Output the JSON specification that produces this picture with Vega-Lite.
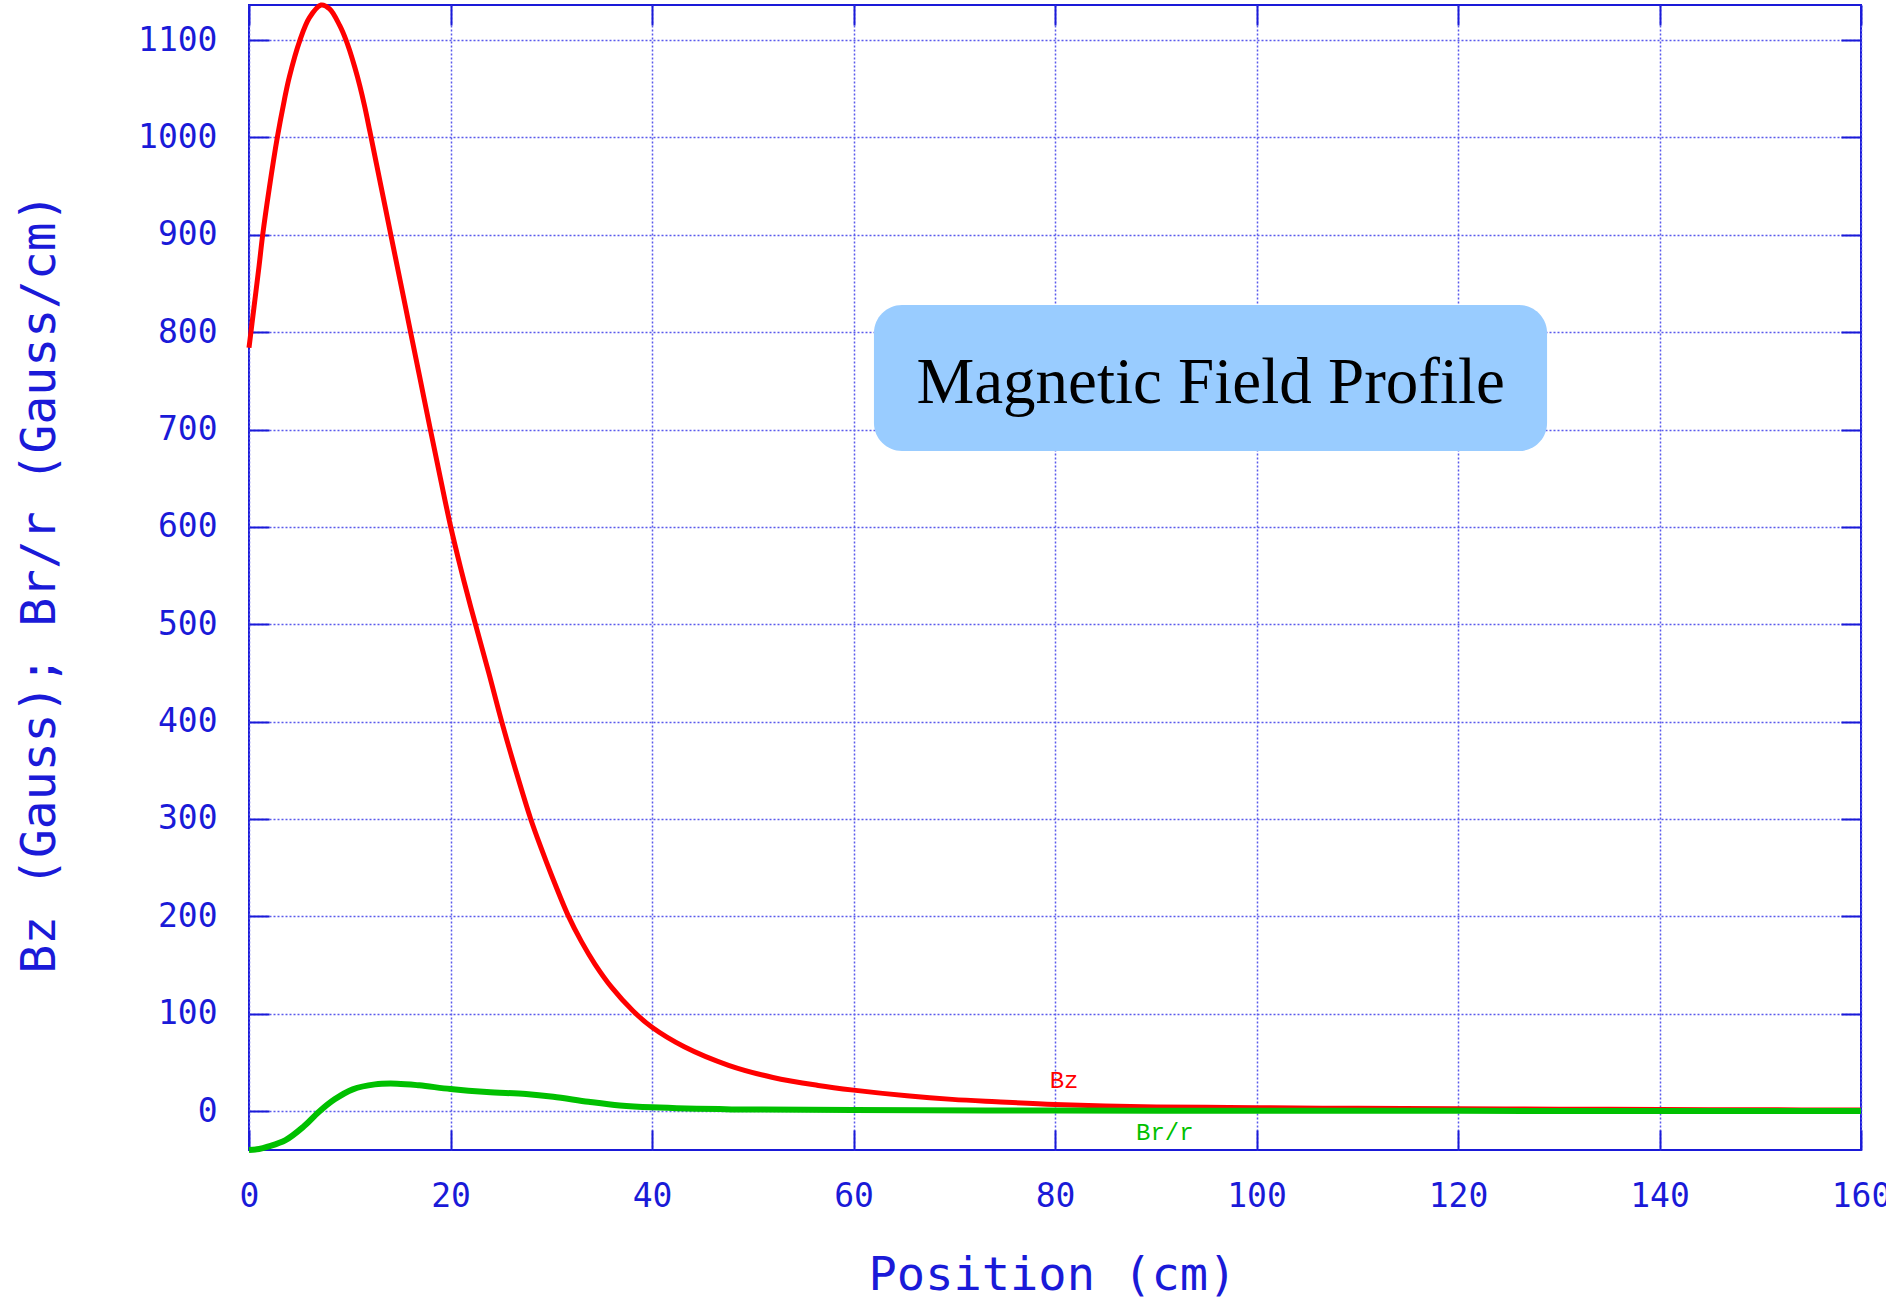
{
  "$schema": "https://vega.github.io/schema/vega-lite/v6.json",
  "width": 1612,
  "height": 1145,
  "autosize": {"type": "none"},
  "padding": {"left": 249, "top": 5, "right": 25, "bottom": 156},
  "background": "white",
  "config": {
    "view": {"stroke": "#1a1ad8", "strokeWidth": 2},
    "axis": {
      "labelFont": "DejaVu Sans Mono",
      "labelFontSize": 33,
      "labelColor": "#1a1ad8",
      "titleFont": "DejaVu Sans Mono",
      "titleFontWeight": "normal",
      "titleColor": "#1a1ad8",
      "tickColor": "#1a1ad8",
      "tickWidth": 2,
      "tickSize": -20,
      "domain": false,
      "gridColor": "#5a5aec",
      "gridDash": [2, 2],
      "gridWidth": 1.5,
      "labelFlush": false,
      "labelOverlap": false
    }
  },
  "datasets": {
    "field": [
      {"x": 0, "v": 784, "s": "Bz"},
      {"x": 0.5, "v": 826, "s": "Bz"},
      {"x": 1, "v": 868, "s": "Bz"},
      {"x": 1.36, "v": 900, "s": "Bz"},
      {"x": 2, "v": 947, "s": "Bz"},
      {"x": 2.81, "v": 1000, "s": "Bz"},
      {"x": 3.5, "v": 1038, "s": "Bz"},
      {"x": 4, "v": 1062, "s": "Bz"},
      {"x": 5.06, "v": 1100, "s": "Bz"},
      {"x": 6, "v": 1123, "s": "Bz"},
      {"x": 7.15, "v": 1136, "s": "Bz"},
      {"x": 8, "v": 1132, "s": "Bz"},
      {"x": 9, "v": 1115, "s": "Bz"},
      {"x": 9.63, "v": 1100, "s": "Bz"},
      {"x": 10, "v": 1089, "s": "Bz"},
      {"x": 10.5, "v": 1072, "s": "Bz"},
      {"x": 11, "v": 1053, "s": "Bz"},
      {"x": 11.5, "v": 1031, "s": "Bz"},
      {"x": 12, "v": 1006, "s": "Bz"},
      {"x": 13, "v": 955, "s": "Bz"},
      {"x": 14, "v": 904, "s": "Bz"},
      {"x": 15, "v": 853, "s": "Bz"},
      {"x": 16, "v": 802, "s": "Bz"},
      {"x": 17, "v": 751, "s": "Bz"},
      {"x": 18, "v": 700, "s": "Bz"},
      {"x": 19, "v": 650, "s": "Bz"},
      {"x": 20, "v": 601, "s": "Bz"},
      {"x": 21, "v": 558, "s": "Bz"},
      {"x": 22, "v": 518, "s": "Bz"},
      {"x": 23.8, "v": 450, "s": "Bz"},
      {"x": 25.08, "v": 400, "s": "Bz"},
      {"x": 26.5, "v": 349, "s": "Bz"},
      {"x": 27.96, "v": 300, "s": "Bz"},
      {"x": 29, "v": 270, "s": "Bz"},
      {"x": 30, "v": 243, "s": "Bz"},
      {"x": 31.67, "v": 201, "s": "Bz"},
      {"x": 33, "v": 174, "s": "Bz"},
      {"x": 34.33, "v": 151, "s": "Bz"},
      {"x": 36, "v": 127, "s": "Bz"},
      {"x": 38.1, "v": 103, "s": "Bz"},
      {"x": 40, "v": 86, "s": "Bz"},
      {"x": 43.2, "v": 66, "s": "Bz"},
      {"x": 47.6, "v": 47, "s": "Bz"},
      {"x": 52, "v": 34.5, "s": "Bz"},
      {"x": 56.5, "v": 26.3, "s": "Bz"},
      {"x": 60, "v": 21.5, "s": "Bz"},
      {"x": 65.3, "v": 15.7, "s": "Bz"},
      {"x": 69.8, "v": 12, "s": "Bz"},
      {"x": 74.2, "v": 9.6, "s": "Bz"},
      {"x": 80, "v": 6.8, "s": "Bz"},
      {"x": 87.5, "v": 4.6, "s": "Bz"},
      {"x": 95, "v": 3.8, "s": "Bz"},
      {"x": 100, "v": 3.4, "s": "Bz"},
      {"x": 110, "v": 2.8, "s": "Bz"},
      {"x": 120, "v": 2.3, "s": "Bz"},
      {"x": 130, "v": 1.9, "s": "Bz"},
      {"x": 140, "v": 1.6, "s": "Bz"},
      {"x": 150, "v": 1.3, "s": "Bz"},
      {"x": 160, "v": 1.1, "s": "Bz"},
      {"x": 0, "v": -40, "s": "Br/r"},
      {"x": 1, "v": -39, "s": "Br/r"},
      {"x": 1.86, "v": -36.6, "s": "Br/r"},
      {"x": 3.63, "v": -29.8, "s": "Br/r"},
      {"x": 5.4, "v": -16.1, "s": "Br/r"},
      {"x": 6.95, "v": -0.7, "s": "Br/r"},
      {"x": 8.5, "v": 12, "s": "Br/r"},
      {"x": 10.3, "v": 22.3, "s": "Br/r"},
      {"x": 12.5, "v": 27.4, "s": "Br/r"},
      {"x": 14.7, "v": 28.1, "s": "Br/r"},
      {"x": 16.9, "v": 26.4, "s": "Br/r"},
      {"x": 20, "v": 22.6, "s": "Br/r"},
      {"x": 23.6, "v": 19.5, "s": "Br/r"},
      {"x": 27.5, "v": 17.5, "s": "Br/r"},
      {"x": 30.2, "v": 14.7, "s": "Br/r"},
      {"x": 33.7, "v": 9.6, "s": "Br/r"},
      {"x": 36.8, "v": 5.8, "s": "Br/r"},
      {"x": 40, "v": 3.8, "s": "Br/r"},
      {"x": 47.9, "v": 1.7, "s": "Br/r"},
      {"x": 60, "v": 1, "s": "Br/r"},
      {"x": 80, "v": 0.5, "s": "Br/r"},
      {"x": 100, "v": 0.3, "s": "Br/r"},
      {"x": 120, "v": 0.2, "s": "Br/r"},
      {"x": 140, "v": 0.1, "s": "Br/r"},
      {"x": 160, "v": 0.1, "s": "Br/r"}
    ]
  },
  "layer": [
    {
      "data": {"values": [{"label": "Magnetic Field Profile"}]},
      "mark": {"type": "rect", "cornerRadius": 28, "fill": "#99ccff"},
      "encoding": {
        "x": {"datum": 62.03, "type": "quantitative", "scale": {"domain": [0, 160], "nice": false, "zero": false}, "axis": null},
        "x2": {"datum": 128.84},
        "y": {"datum": 827.9, "type": "quantitative", "scale": {"domain": [-40, 1136], "nice": false, "zero": false}, "axis": null},
        "y2": {"datum": 677.9}
      }
    },
    {
      "data": {"values": [{"label": "Magnetic Field Profile"}]},
      "mark": {"type": "text", "font": "Liberation Serif", "fontSize": 65, "color": "#000000", "align": "center", "baseline": "alphabetic"},
      "encoding": {
        "x": {"datum": 95.45, "type": "quantitative", "scale": {"domain": [0, 160], "nice": false, "zero": false}, "axis": null},
        "y": {"datum": 727.5, "type": "quantitative", "scale": {"domain": [-40, 1136], "nice": false, "zero": false}, "axis": null},
        "text": {"field": "label"}
      }
    },
    {
      "data": {"name": "field"},
      "transform": [{"filter": "datum.s === 'Bz'"}],
      "mark": {"type": "line", "color": "#ff0000", "strokeWidth": 5, "interpolate": "catmull-rom"},
      "encoding": {
        "x": {
          "field": "x", "type": "quantitative",
          "scale": {"domain": [0, 160], "nice": false, "zero": false},
          "axis": {
            "orient": "bottom",
            "values": [0, 20, 40, 60, 80, 100, 120, 140, 160],
            "format": "d",
            "grid": true,
            "labelPadding": 50,
            "labelBaseline": "top",
            "title": "Position (cm)",
            "titleFontSize": 47,
            "titleX": 803,
            "titleY": 125,
            "titleAlign": "center",
            "titleBaseline": "middle"
          }
        },
        "y": {
          "field": "v", "type": "quantitative",
          "scale": {"domain": [-40, 1136], "nice": false, "zero": false},
          "axis": {
            "orient": "left",
            "values": [0, 100, 200, 300, 400, 500, 600, 700, 800, 900, 1000, 1100],
            "format": "d",
            "grid": true,
            "labelPadding": 52,
            "labelAlign": "right",
            "labelBaseline": "middle",
            "title": "Bz (Gauss); Br/r (Gauss/cm)",
            "titleFontSize": 48,
            "titleAngle": 270,
            "titleX": -209,
            "titleY": 578,
            "titleAlign": "center",
            "titleBaseline": "middle"
          }
        }
      }
    },
    {
      "data": {"name": "field"},
      "transform": [{"filter": "datum.s === 'Br/r'"}],
      "mark": {"type": "line", "color": "#00c000", "strokeWidth": 6, "interpolate": "catmull-rom"},
      "encoding": {
        "x": {
          "field": "x", "type": "quantitative",
          "scale": {"domain": [0, 160], "nice": false, "zero": false},
          "axis": {
            "orient": "top",
            "values": [0, 20, 40, 60, 80, 100, 120, 140, 160],
            "grid": false,
            "labels": false,
            "title": null
          }
        },
        "y": {
          "field": "v", "type": "quantitative",
          "scale": {"domain": [-40, 1136], "nice": false, "zero": false},
          "axis": {
            "orient": "right",
            "values": [0, 100, 200, 300, 400, 500, 600, 700, 800, 900, 1000, 1100],
            "grid": false,
            "labels": false,
            "title": null
          }
        }
      }
    },
    {
      "data": {"values": [{"label": "Bz"}]},
      "mark": {"type": "text", "font": "Liberation Mono", "fontSize": 24, "color": "#ff0000", "align": "center", "baseline": "middle"},
      "encoding": {
        "x": {"datum": 80.9, "type": "quantitative", "scale": {"domain": [0, 160], "nice": false, "zero": false}, "axis": null},
        "y": {"datum": 30.8, "type": "quantitative", "scale": {"domain": [-40, 1136], "nice": false, "zero": false}, "axis": null},
        "text": {"field": "label"}
      }
    },
    {
      "data": {"values": [{"label": "Br/r"}]},
      "mark": {"type": "text", "font": "Liberation Mono", "fontSize": 24, "color": "#00c000", "align": "center", "baseline": "middle"},
      "encoding": {
        "x": {"datum": 90.9, "type": "quantitative", "scale": {"domain": [0, 160], "nice": false, "zero": false}, "axis": null},
        "y": {"datum": -22.6, "type": "quantitative", "scale": {"domain": [-40, 1136], "nice": false, "zero": false}, "axis": null},
        "text": {"field": "label"}
      }
    }
  ],
  "resolve": {"axis": {"x": "independent", "y": "independent"}}
}
